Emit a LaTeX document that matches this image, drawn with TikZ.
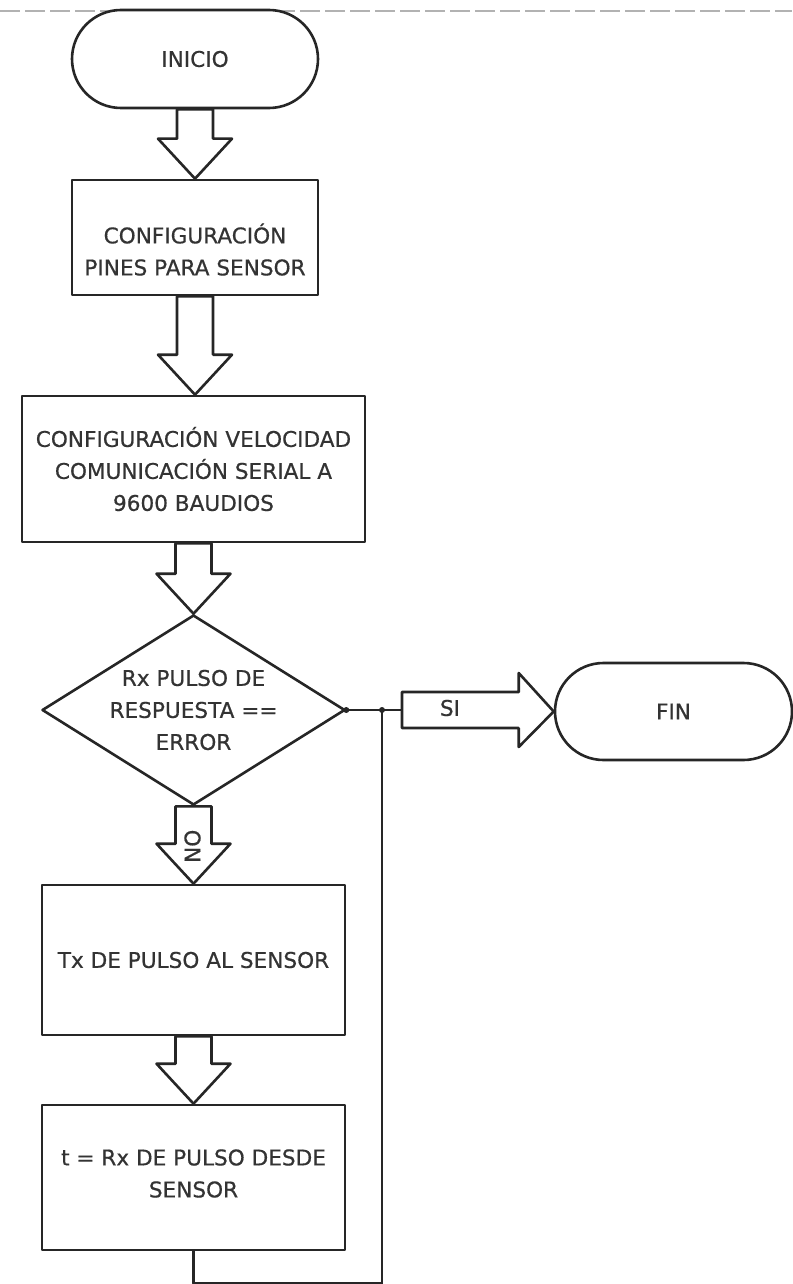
\documentclass[tikz,border=0pt]{standalone}
\usepackage{fontspec}
\setmainfont{DejaVu Sans}
\newfontfamily\flowfont{DejaVu Sans}[FakeBold=0.6]
\usetikzlibrary{shapes.misc,shapes.geometric,calc}

% hollow block arrow pointing down, from the south of #1 to the north of #2
\newcommand{\blockdown}[2]{%
  \path[blockarrow] let \p1=(#1.south), \p2=(#2.north) in
    (\x1-18pt,\y1) -- (\x1-18pt,\y2+40pt) -- (\x1-37pt,\y2+40pt) -- (\x1,\y2)
    -- (\x1+37pt,\y2+40pt) -- (\x1+18pt,\y2+40pt) -- (\x1+18pt,\y1) -- cycle;}

\begin{document}
\begin{tikzpicture}[x=1pt,y=-1pt,
  ink/.style={draw=black!85, line width=2.6pt, line join=round},
  lbl/.style={font=\flowfont\fontsize{21.6}{32}\selectfont, text=black!80},
  term/.style={rounded rectangle, ink, fill=white, inner sep=0pt, lbl},
  proc/.style={rectangle, ink, fill=white, inner sep=0pt, align=center, lbl},
  decision/.style={diamond, ink, fill=white, inner sep=0pt},
  blockarrow/.style={ink, fill=white},
  joint/.style={circle, fill=black!85, inner sep=0pt, minimum size=6pt}]
\useasboundingbox (0,0) rectangle (792,1284);

% light dashed rule along the top
\draw[black!30, line width=1.6pt, dash pattern=on 20pt off 5pt] (0,11) -- (792,11);

% boxes
\node[term, minimum width=246pt, minimum height=98pt] (inicio) at (195,59) {INICIO};
\node[proc, minimum width=246pt, minimum height=115pt] (cfg1) at (195,237.5) {};
\node[lbl, align=center] (cfg1text) at ($(cfg1.center)+(0,12)$)
  {CONFIGURACIÓN\\PINES PARA SENSOR};
\node[proc, minimum width=343pt, minimum height=146pt] (cfg2) at (193.5,469)
  {CONFIGURACIÓN VELOCIDAD\\COMUNICACIÓN SERIAL A\\9600 BAUDIOS};
\node[decision, minimum width=303pt, minimum height=190pt] (dec) at (193.5,710) {};
\node[lbl, align=center] (dectext) at (dec.center) {Rx PULSO DE\\RESPUESTA ==\\ERROR};
\node[proc, minimum width=303pt, minimum height=150pt] (tx) at (193.5,960)
  {Tx DE PULSO AL SENSOR};
\node[proc, minimum width=303pt, minimum height=145pt] (rx) at (193.5,1177.5) {};
\node[lbl, align=center] (rxtext) at ($(rx.center)+(0,-4)$)
  {t = Rx DE PULSO DESDE\\SENSOR};
\node[term, minimum width=237pt, minimum height=97pt] (fin) at (673.5,711.5) {FIN};

% down arrows between the steps
\blockdown{inicio}{cfg1}
\blockdown{cfg1}{cfg2}
\blockdown{cfg2}{dec}
\blockdown{dec}{tx}
\node[lbl, rotate=90] (no) at ($(dec.south)+(-1,40)$) {NO};
\blockdown{tx}{rx}

% "yes" branch towards FIN
\coordinate (sitail) at (402,710);
\coordinate (merge) at (382,710);
\draw[ink] (dec.east) -- (sitail);
\path[blockarrow] let \p1=(sitail), \p2=(fin.west) in
  (\x1,\y1+18pt) -- (\x2-35pt,\y1+18pt) -- (\x2-35pt,\y1+37pt) -- (\x2,\y2)
  -- (\x2-35pt,\y1-37pt) -- (\x2-35pt,\y1-18pt) -- (\x1,\y1-18pt) -- cycle;
\node[lbl] (si) at (450,708) {SI};

% loop back from the last step
\draw[ink] (rx.south) -- ++(0,32) -| (merge);
\node[joint] (j1) at (dec.east) {};
\node[joint] (j2) at (merge) {};
\end{tikzpicture}
\end{document}
